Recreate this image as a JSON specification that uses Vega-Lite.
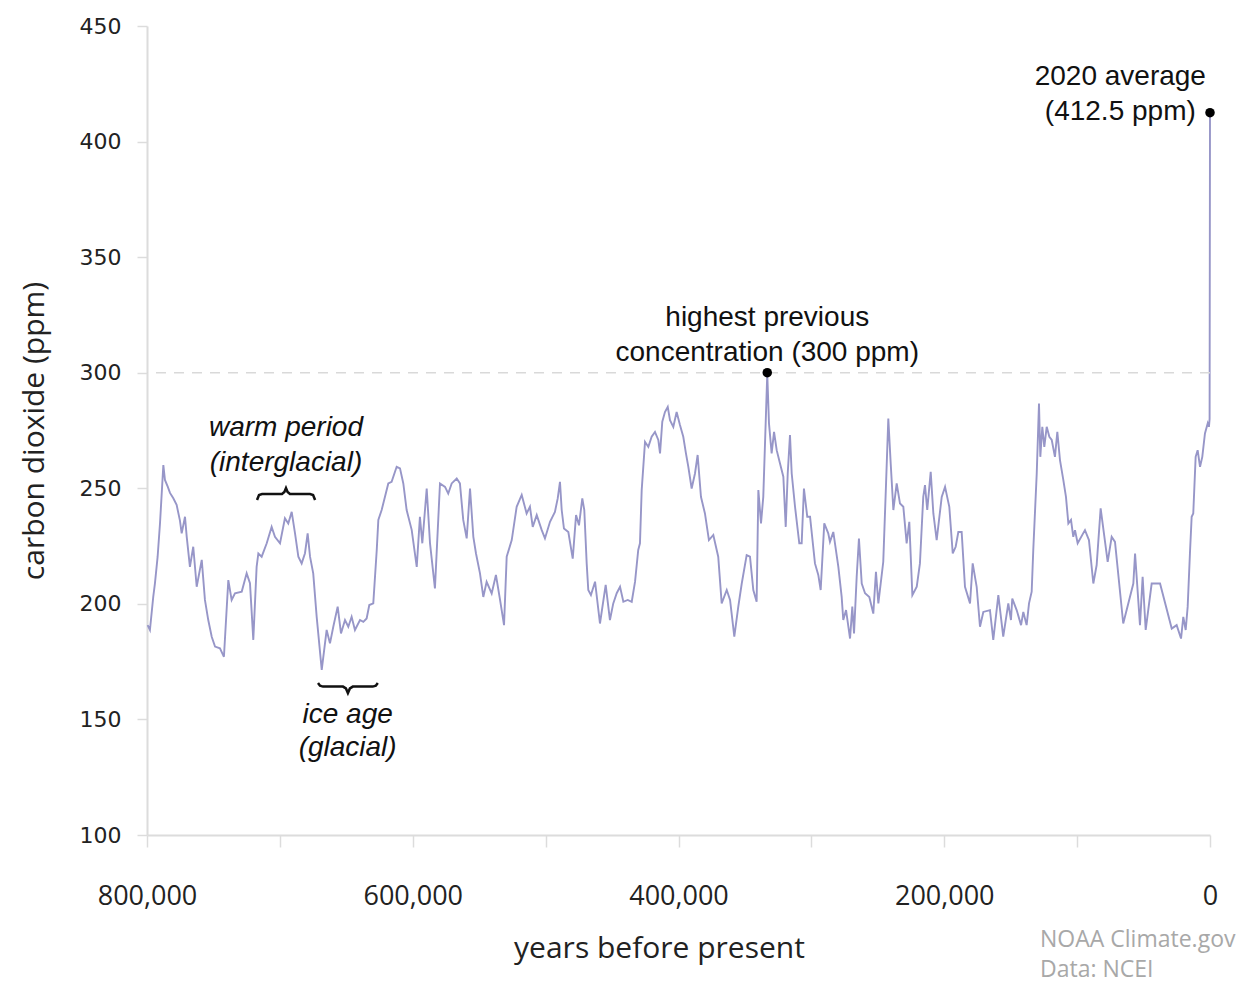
{
  "$schema": "https://vega.github.io/schema/vega-lite/v6.json",
  "autosize": {"type": "none"},
  "width": 1063,
  "height": 809,
  "padding": {"left": 147, "top": 26, "right": 42, "bottom": 149},
  "background": "white",
  "config": {
    "view": {"stroke": null},
    "axisX": {"grid": false, "domainColor": "#dcdcdc", "domainWidth": 2, "tickColor": "#dcdcdc", "tickWidth": 1.5, "tickSize": 12,
      "labelFont": "Open Sans", "labelFontSize": 27, "labelColor": "#222", "labelPadding": 36, "labelFlush": false,
      "titleFont": "Open Sans", "titleFontSize": 30, "titleFontWeight": "normal", "titleColor": "#222", "titlePadding": 24, "titleX": 512},
    "axisY": {"grid": false, "domainColor": "#dcdcdc", "domainWidth": 2, "tickColor": "#dcdcdc", "tickWidth": 1.5, "tickSize": 10,
      "labelFont": "DejaVu Sans", "labelFontSize": 22, "labelColor": "#222", "labelPadding": 16,
      "titleFont": "Open Sans", "titleFontSize": 30, "titleFontWeight": "normal", "titleColor": "#222", "titlePadding": 30}
  },
  "datasets": {
    "co2": [
      {"year":799500,"co2":190.8},{"year":797800,"co2":188.7},{"year":795300,"co2":203},{"year":794000,"co2":209},{"year":792000,"co2":220.4},{"year":790200,"co2":235},{"year":787700,"co2":260},{"year":786500,"co2":253.6},{"year":784400,"co2":250.7},{"year":782700,"co2":248},{"year":780200,"co2":245.7},{"year":777700,"co2":242.8},{"year":775200,"co2":236},{"year":773900,"co2":230.5},{"year":771400,"co2":237.7},{"year":770100,"co2":229},{"year":767700,"co2":216},{"year":765200,"co2":224.7},{"year":762600,"co2":207.4},{"year":758800,"co2":219},{"year":756400,"co2":201.7},{"year":753900,"co2":193},{"year":751300,"co2":185.8},{"year":748800,"co2":181.5},{"year":745100,"co2":180.8},{"year":742100,"co2":177.1},{"year":738800,"co2":210.3},{"year":736300,"co2":201.7},{"year":733800,"co2":204.6},{"year":728700,"co2":205.3},{"year":725000,"co2":213.2},{"year":722500,"co2":208.9},{"year":720000,"co2":184.4},{"year":717500,"co2":216},{"year":716200,"co2":221.8},{"year":713700,"co2":220.4},{"year":709900,"co2":226.2},{"year":706200,"co2":233.3},{"year":703700,"co2":229},{"year":699900,"co2":226.2},{"year":696200,"co2":237},{"year":693700,"co2":234.8},{"year":691100,"co2":239.8},{"year":688600,"co2":230.5},{"year":686100,"co2":220.4},{"year":683600,"co2":217.5},{"year":681100,"co2":221.9},{"year":679100,"co2":230.5},{"year":677300,"co2":220.4},{"year":674900,"co2":213.2},{"year":672300,"co2":194.4},{"year":668500,"co2":171.4},{"year":664800,"co2":188.7},{"year":662300,"co2":182.9},{"year":659800,"co2":190.1},{"year":656500,"co2":198.8},{"year":654000,"co2":187.2},{"year":651000,"co2":193},{"year":648500,"co2":190.1},{"year":646000,"co2":194.4},{"year":643500,"co2":188.7},{"year":639700,"co2":193},{"year":637200,"co2":192.2},{"year":634700,"co2":193.7},{"year":632700,"co2":199.5},{"year":629700,"co2":200.2},{"year":627100,"co2":223.3},{"year":625900,"co2":236.3},{"year":623400,"co2":240.6},{"year":618400,"co2":252.1},{"year":615900,"co2":252.8},{"year":612100,"co2":259.3},{"year":609600,"co2":258.6},{"year":607100,"co2":252.1},{"year":604600,"co2":240.6},{"year":600800,"co2":232},{"year":597000,"co2":216},{"year":594600,"co2":237.7},{"year":592800,"co2":226.2},{"year":589500,"co2":249.9},{"year":587000,"co2":226.2},{"year":583300,"co2":206.7},{"year":579500,"co2":252.1},{"year":575700,"co2":250.6},{"year":573300,"co2":247.7},{"year":570700,"co2":252.1},{"year":566900,"co2":254.2},{"year":564500,"co2":252.1},{"year":562000,"co2":236.3},{"year":559400,"co2":228.3},{"year":556900,"co2":249.9},{"year":554400,"co2":229},{"year":552400,"co2":221.8},{"year":549400,"co2":213.2},{"year":546900,"co2":203},{"year":544400,"co2":209.5},{"year":540600,"co2":204.5},{"year":537400,"co2":212.5},{"year":534300,"co2":201.7},{"year":531300,"co2":190.8},{"year":529300,"co2":220.4},{"year":525500,"co2":227.6},{"year":521800,"co2":242},{"year":518000,"co2":247.1},{"year":514300,"co2":239.1},{"year":511800,"co2":242},{"year":509700,"co2":233.3},{"year":506700,"co2":238.4},{"year":503000,"co2":232},{"year":500500,"co2":228.3},{"year":496700,"co2":235.5},{"year":493000,"co2":239.8},{"year":490900,"co2":245.6},{"year":489200,"co2":252.8},{"year":487900,"co2":240.6},{"year":486200,"co2":232.6},{"year":482900,"co2":231.1},{"year":479600,"co2":219.6},{"year":477100,"co2":238.4},{"year":474900,"co2":234},{"year":472400,"co2":245.6},{"year":470900,"co2":240.6},{"year":469100,"co2":217.5},{"year":467900,"co2":206},{"year":465900,"co2":203.8},{"year":462800,"co2":209.6},{"year":459100,"co2":191.5},{"year":454800,"co2":208.2},{"year":451600,"co2":193},{"year":449100,"co2":200.2},{"year":446500,"co2":204.6},{"year":444000,"co2":207.4},{"year":441500,"co2":200.9},{"year":438200,"co2":201.7},{"year":435200,"co2":200.9},{"year":432700,"co2":209.6},{"year":430300,"co2":223.3},{"year":429000,"co2":226.2},{"year":427700,"co2":249.2},{"year":425200,"co2":270.1},{"year":422700,"co2":267.9},{"year":420200,"co2":272.3},{"year":417700,"co2":274.4},{"year":415200,"co2":270.9},{"year":413900,"co2":265.1},{"year":412200,"co2":278.8},{"year":410200,"co2":283},{"year":408100,"co2":285.2},{"year":406400,"co2":279.5},{"year":403900,"co2":276.6},{"year":401400,"co2":283},{"year":398900,"co2":277.4},{"year":396400,"co2":272.3},{"year":394400,"co2":265.1},{"year":392600,"co2":259.3},{"year":390100,"co2":249.9},{"year":387600,"co2":256.4},{"year":385600,"co2":264.4},{"year":383100,"co2":246.3},{"year":380100,"co2":239.1},{"year":377100,"co2":227.6},{"year":373800,"co2":229.8},{"year":370100,"co2":220.4},{"year":367500,"co2":200.2},{"year":363700,"co2":206},{"year":361200,"co2":201.7},{"year":358000,"co2":185.8},{"year":355000,"co2":198.8},{"year":352400,"co2":208.8},{"year":348700,"co2":221.1},{"year":346200,"co2":220.4},{"year":343700,"co2":206},{"year":341200,"co2":200.9},{"year":339900,"co2":249.2},{"year":337900,"co2":234.8},{"year":336200,"co2":246.3},{"year":334400,"co2":278.1},{"year":333200,"co2":299.5},{"year":331900,"co2":278.1},{"year":329900,"co2":265.1},{"year":328100,"co2":274.4},{"year":326100,"co2":266.5},{"year":323600,"co2":260.7},{"year":321100,"co2":255},{"year":319300,"co2":233.3},{"year":317800,"co2":256.4},{"year":316100,"co2":273},{"year":314800,"co2":256.4},{"year":312300,"co2":242},{"year":309100,"co2":226.2},{"year":307300,"co2":226.2},{"year":305600,"co2":249.9},{"year":303100,"co2":237.7},{"year":301000,"co2":237.7},{"year":297300,"co2":217.5},{"year":294800,"co2":212.5},{"year":293000,"co2":206},{"year":290300,"co2":234.8},{"year":287300,"co2":230.5},{"year":286000,"co2":226.8},{"year":283500,"co2":231.1},{"year":279700,"co2":216},{"year":277200,"co2":203},{"year":276000,"co2":193},{"year":273900,"co2":197.3},{"year":270900,"co2":185},{"year":269200,"co2":198.8},{"year":267900,"co2":187.2},{"year":265900,"co2":211.7},{"year":264200,"co2":228.3},{"year":262100,"co2":208.8},{"year":259600,"co2":204.6},{"year":256400,"co2":203},{"year":253400,"co2":195.8},{"year":251400,"co2":213.9},{"year":249600,"co2":200.2},{"year":245900,"co2":218.2},{"year":243800,"co2":252.1},{"year":242100,"co2":280.2},{"year":240300,"co2":260.7},{"year":238300,"co2":240.6},{"year":235800,"co2":252.1},{"year":233300,"co2":243.4},{"year":230800,"co2":242},{"year":228300,"co2":226.2},{"year":226300,"co2":235.5},{"year":224000,"co2":203.8},{"year":220700,"co2":207.4},{"year":218300,"co2":217.5},{"year":215800,"co2":246.3},{"year":214500,"co2":251.4},{"year":212800,"co2":240.6},{"year":210200,"co2":257.1},{"year":208200,"co2":239.1},{"year":205700,"co2":227.6},{"year":201900,"co2":246.3},{"year":199400,"co2":250.6},{"year":196200,"co2":242},{"year":193600,"co2":221.8},{"year":191400,"co2":224.7},{"year":189400,"co2":231.1},{"year":186900,"co2":231.1},{"year":184400,"co2":207.4},{"year":180600,"co2":200.2},{"year":178600,"co2":217.5},{"year":175600,"co2":207.4},{"year":173100,"co2":190.1},{"year":170600,"co2":196.5},{"year":165600,"co2":197.3},{"year":163100,"co2":184.4},{"year":159300,"co2":203.8},{"year":155600,"co2":185.8},{"year":151800,"co2":200.2},{"year":149800,"co2":193},{"year":148800,"co2":202.3},{"year":145500,"co2":197.3},{"year":142200,"co2":190.8},{"year":140500,"co2":196.5},{"year":138000,"co2":190.8},{"year":136200,"co2":200.2},{"year":134200,"co2":205.3},{"year":133000,"co2":223.3},{"year":130400,"co2":256.4},{"year":128700,"co2":286.7},{"year":127700,"co2":263.6},{"year":126200,"co2":276.6},{"year":124700,"co2":267.9},{"year":122900,"co2":276.6},{"year":120900,"co2":272.3},{"year":119100,"co2":270.9},{"year":116700,"co2":263.6},{"year":114900,"co2":274.4},{"year":112900,"co2":262.2},{"year":110400,"co2":253.6},{"year":108400,"co2":246.3},{"year":106600,"co2":234.8},{"year":104600,"co2":236.3},{"year":102900,"co2":229},{"year":101600,"co2":231.9},{"year":99600,"co2":226.2},{"year":94100,"co2":231.9},{"year":91100,"co2":227.6},{"year":87800,"co2":208.8},{"year":85300,"co2":216.8},{"year":82300,"co2":241.3},{"year":77000,"co2":218.2},{"year":74000,"co2":229},{"year":71500,"co2":226.8},{"year":65300,"co2":191.5},{"year":57700,"co2":208.8},{"year":56400,"co2":221.8},{"year":52700,"co2":190.8},{"year":50700,"co2":211.7},{"year":48400,"co2":188.7},{"year":43900,"co2":208.8},{"year":37600,"co2":208.8},{"year":28800,"co2":189.3},{"year":25100,"co2":190.8},{"year":21800,"co2":185},{"year":20100,"co2":194.4},{"year":18300,"co2":188.7},{"year":16800,"co2":198.8},{"year":15100,"co2":221.8},{"year":13800,"co2":237.7},{"year":12600,"co2":239.1},{"year":10800,"co2":263.6},{"year":9300,"co2":266.5},{"year":7500,"co2":259.3},{"year":5800,"co2":263.6},{"year":3800,"co2":273.7},{"year":1700,"co2":278.1},{"year":800,"co2":276.6},{"year":300,"co2":280},{"year":0,"co2":412.5}
    ],
    "braces": [
      {"year":717200,"co2":244.9,"brace":"warm"},{"year":715700,"co2":247.1,"brace":"warm"},{"year":713400,"co2":247.5,"brace":"warm"},{"year":698400,"co2":247.5,"brace":"warm"},{"year":696600,"co2":248.4,"brace":"warm"},{"year":695400,"co2":250.1,"brace":"warm"},{"year":694200,"co2":248.4,"brace":"warm"},{"year":692400,"co2":247.5,"brace":"warm"},{"year":677300,"co2":247.5,"brace":"warm"},{"year":675000,"co2":247.1,"brace":"warm"},{"year":673500,"co2":244.9,"brace":"warm"},
      {"year":671300,"co2":165.8,"brace":"ice"},{"year":669800,"co2":164.6,"brace":"ice"},{"year":667500,"co2":164.2,"brace":"ice"},{"year":652500,"co2":164.2,"brace":"ice"},{"year":650300,"co2":163.4,"brace":"ice"},{"year":648800,"co2":161.4,"brace":"ice"},{"year":647300,"co2":163.4,"brace":"ice"},{"year":645100,"co2":164.2,"brace":"ice"},{"year":630100,"co2":164.2,"brace":"ice"},{"year":627800,"co2":164.6,"brace":"ice"},{"year":626300,"co2":165.8,"brace":"ice"}
    ],
    "dots": [{"year":333200,"co2":300},{"year":0,"co2":412.5}],
    "labels": [
      {"year":333200,"co2":323.7,"label":"highest previous"},
      {"year":333200,"co2":308.5,"label":"concentration (300 ppm)"},
      {"year":67500,"co2":427.9,"label":"2020 average"},
      {"year":67500,"co2":412.8,"label":"(412.5 ppm)"}
    ],
    "italics": [
      {"year":695400,"co2":276,"label":"warm period"},
      {"year":695400,"co2":261,"label":"(interglacial)"},
      {"year":649000,"co2":151.9,"label":"ice age"},
      {"year":649000,"co2":137.6,"label":"(glacial)"}
    ],
    "credit": [
      {"year":127900,"co2":54.6,"label":"NOAA Climate.gov"},
      {"year":127900,"co2":41.6,"label":"Data: NCEI"}
    ]
  },
  "layer": [
    {
      "data": {"name": "co2"},
      "mark": {"type": "line", "color": "#9796c8", "strokeWidth": 1.9},
      "encoding": {
        "x": {"field": "year", "type": "quantitative", "sort": null, "title": "years before present",
          "scale": {"domain": [0, 800000], "reverse": true, "nice": false},
          "axis": {"values": [0,100000,200000,300000,400000,500000,600000,700000,800000],
            "labelExpr": "datum.value % 200000 === 0 ? format(datum.value, ',') : ''"}},
        "y": {"field": "co2", "type": "quantitative", "title": "carbon dioxide (ppm)",
          "scale": {"domain": [100, 450], "nice": false},
          "axis": {"values": [100,150,200,250,300,350,400,450]}},
        "order": {"field": "year", "sort": "descending"}
      }
    },
    {
      "data": {"values": [{"co2": 300}]},
      "mark": {"type": "rule", "color": "#d9d9d9", "strokeWidth": 1.5, "strokeDash": [10, 8]},
      "encoding": {"y": {"field": "co2", "type": "quantitative", "title": "carbon dioxide (ppm)"}}
    },
    {
      "data": {"name": "braces"},
      "mark": {"type": "line", "color": "#111", "strokeWidth": 2.5},
      "encoding": {
        "x": {"field": "year", "type": "quantitative", "title": "years before present"},
        "y": {"field": "co2", "type": "quantitative", "title": "carbon dioxide (ppm)"},
        "detail": {"field": "brace"},
        "order": {"field": "year", "sort": "descending"}
      }
    },
    {
      "data": {"name": "dots"},
      "mark": {"type": "circle", "color": "black", "size": 90, "opacity": 1},
      "encoding": {
        "x": {"field": "year", "type": "quantitative", "title": "years before present"},
        "y": {"field": "co2", "type": "quantitative", "title": "carbon dioxide (ppm)"}
      }
    },
    {
      "data": {"name": "labels"},
      "mark": {"type": "text", "font": "Liberation Sans", "fontSize": 28, "color": "#111", "align": "center", "baseline": "middle"},
      "encoding": {
        "x": {"field": "year", "type": "quantitative", "title": "years before present"},
        "y": {"field": "co2", "type": "quantitative", "title": "carbon dioxide (ppm)"},
        "text": {"field": "label"}
      }
    },
    {
      "data": {"name": "italics"},
      "mark": {"type": "text", "font": "Liberation Sans", "fontSize": 28, "fontStyle": "italic", "color": "#111", "align": "center", "baseline": "middle"},
      "encoding": {
        "x": {"field": "year", "type": "quantitative", "title": "years before present"},
        "y": {"field": "co2", "type": "quantitative", "title": "carbon dioxide (ppm)"},
        "text": {"field": "label"}
      }
    },
    {
      "data": {"name": "credit"},
      "mark": {"type": "text", "font": "Open Sans", "fontSize": 23, "color": "#a8a8a8", "align": "left", "baseline": "middle"},
      "encoding": {
        "x": {"field": "year", "type": "quantitative", "title": "years before present"},
        "y": {"field": "co2", "type": "quantitative", "title": "carbon dioxide (ppm)"},
        "text": {"field": "label"}
      }
    }
  ]
}
